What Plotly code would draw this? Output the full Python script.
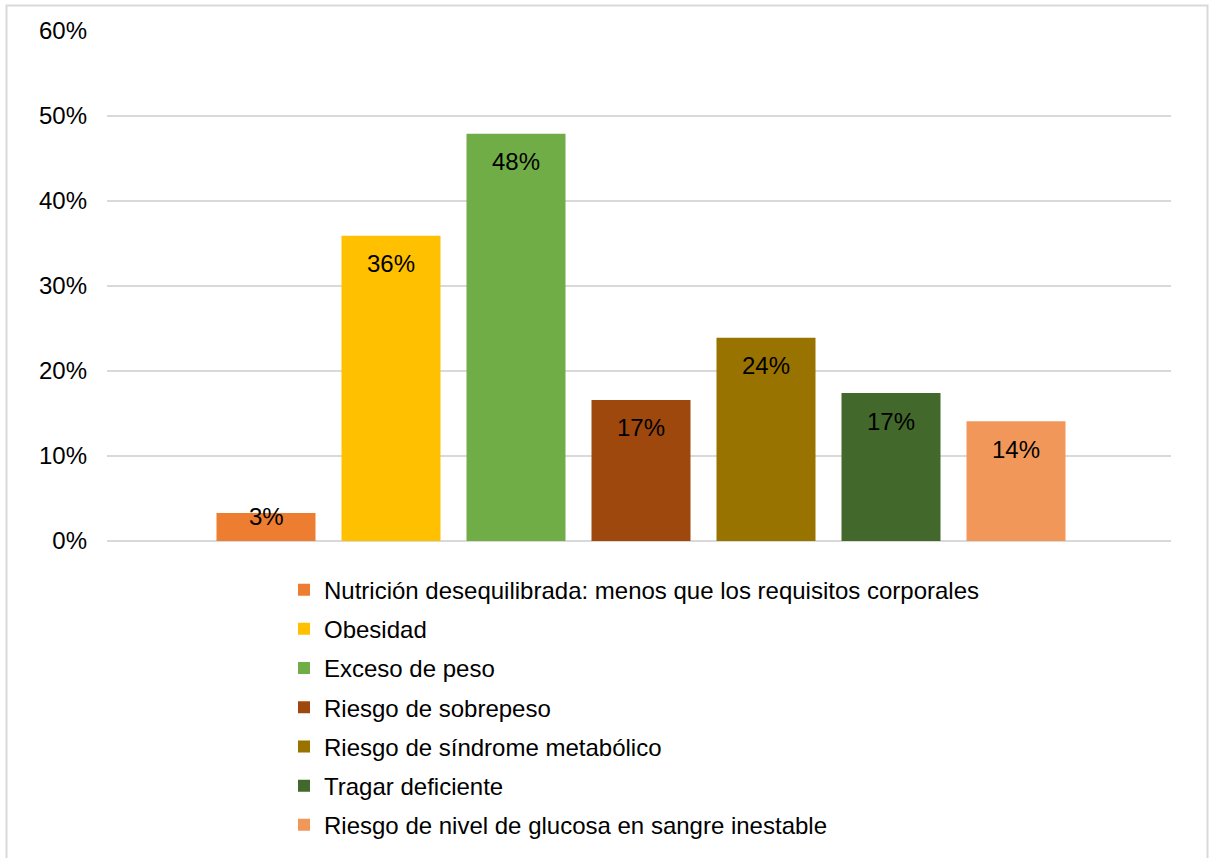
import plotly.graph_objects as go

categories = [
    "Nutrición desequilibrada: menos que los requisitos corporales",
    "Obesidad",
    "Exceso de peso",
    "Riesgo de sobrepeso",
    "Riesgo de síndrome metabólico",
    "Tragar deficiente",
    "Riesgo de nivel de glucosa en sangre inestable",
]
values = [0.033, 0.359, 0.479, 0.166, 0.239, 0.174, 0.141]
colors = ["#ED7D31", "#FFC000", "#70AD47", "#9E480E", "#997300", "#43682B", "#F1975A"]
y_ticks = [0, 0.1, 0.2, 0.3, 0.4, 0.5, 0.6]
y_tick_labels = ["0%", "10%", "20%", "30%", "40%", "50%", "60%"]

FONT = "Liberation Sans, Arial, sans-serif"
FS = 24

fig = go.Figure()
for i, (name, v, c) in enumerate(zip(categories, values, colors)):
    fig.add_trace(go.Bar(
        x=[i], y=[v], name=name, marker=dict(color=c, line=dict(width=0)),
        width=0.792, legendgroup=f"g{i}", hoverinfo="skip",
    ))
    fig.add_annotation(
        x=i, y=max(v - 0.0329, 0.0294), text=f"{v:.0%}", showarrow=False,
        xref="x", yref="y", yanchor="middle", xanchor="center",
        font=dict(family=FONT, size=FS, color="#000000"),
    )

L, R, T, B = 107, 38, 31, 316
W, H = 1209, 858
pw, ph = W - L - R, H - T - B

fig.add_shape(
    type="rect", xref="paper", yref="paper",
    x0=(6.5 - L) / pw, x1=(1207.5 - L) / pw,
    y0=(H - B - 880) / ph, y1=(H - B - 5.5) / ph,
    line=dict(color="#d9d9d9", width=2), fillcolor="rgba(0,0,0,0)", layer="below",
)

fig.update_layout(
    width=W, height=H,
    margin=dict(l=L, r=R, t=T, b=B, pad=0),
    paper_bgcolor="white", plot_bgcolor="white",
    font=dict(family=FONT, size=FS, color="#000000"),
    showlegend=True,
    legend=dict(
        orientation="v", x=(284 - L) / pw, xanchor="left", y=-0.05, yanchor="top",
        font=dict(family=FONT, size=FS, color="#000000"),
        tracegroupgap=5, traceorder="grouped", bgcolor="rgba(0,0,0,0)",
    ),
    xaxis=dict(
        range=[-1.272, 7.24], showticklabels=False, showgrid=False,
        zeroline=False, showline=False, ticks="", fixedrange=True,
    ),
    yaxis=dict(
        range=[0, 0.6], tickvals=y_ticks, ticktext=y_tick_labels,
        showgrid=True, gridcolor="#d9d9d9", gridwidth=1.5,
        zeroline=True, zerolinecolor="#d9d9d9", zerolinewidth=2,
        showline=False, ticks="", ticklabelstandoff=19,
        tickfont=dict(family=FONT, size=FS, color="#000000"),
    ),
)

fig.write_html("out.html")
